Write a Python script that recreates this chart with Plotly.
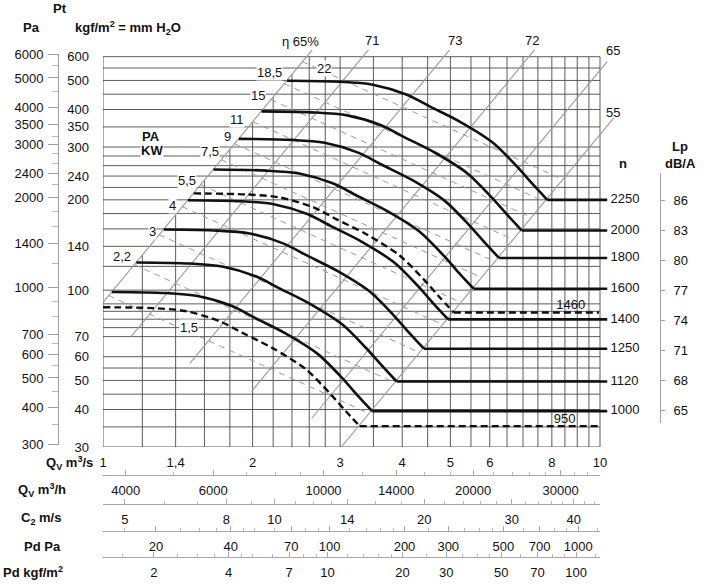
import math
import plotly.graph_objects as go

W, H = 708, 584

# ---------------- data ----------------
# fan curves: Qv [m3/s] and Pt [kgf/m2]
q_2250 = [2.345, 3.00, 3.49, 4.09, 4.55, 5.23, 6.09, 6.81, 7.33, 7.83]
pt_2250 = [499, 495, 484, 448, 409, 364, 310, 258, 225, 200]
q_2000 = [2.084, 2.667, 3.102, 3.636, 4.044, 4.649, 5.413, 6.053, 6.516, 6.960]
pt_2000 = [394.3, 391.1, 382.4, 354.0, 323.2, 287.6, 244.9, 203.8, 177.8, 158.0]
q_1800 = [1.876, 2.400, 2.792, 3.272, 3.640, 4.184, 4.872, 5.448, 5.864, 6.264]
pt_1800 = [319.4, 316.8, 309.8, 286.7, 261.8, 233.0, 198.4, 165.1, 144.0, 128.0]
q_1600 = [1.668, 2.133, 2.482, 2.908, 3.236, 3.719, 4.331, 4.843, 5.212, 5.568]
pt_1600 = [252.3, 250.3, 244.8, 226.6, 206.8, 184.1, 156.8, 130.5, 113.8, 101.1]
q_1460 = [1.522, 1.947, 2.265, 2.654, 2.952, 3.394, 3.952, 4.419, 4.756, 5.081]
pt_1460 = [210.1, 208.4, 203.8, 188.7, 172.2, 153.3, 130.5, 108.6, 94.7, 84.2]
q_1400 = [1.482, 1.896, 2.206, 2.585, 2.876, 3.305, 3.849, 4.304, 4.633, 4.949]
pt_1400 = [199.4, 197.8, 193.4, 179.0, 163.4, 145.4, 123.8, 103.1, 89.9, 79.9]
q_1250 = [1.325, 1.695, 1.972, 2.311, 2.571, 2.955, 3.441, 3.848, 4.141, 4.424]
pt_1250 = [159.2, 157.9, 154.4, 142.9, 130.5, 116.1, 98.9, 82.3, 71.8, 63.8]
q_1120 = [1.167, 1.493, 1.737, 2.036, 2.265, 2.603, 3.032, 3.390, 3.649, 3.898]
pt_1120 = [123.7, 122.7, 119.9, 111.0, 101.4, 90.2, 76.8, 63.9, 55.8, 49.6]
q_1000 = [1.042, 1.333, 1.551, 1.818, 2.022, 2.324, 2.707, 3.027, 3.258, 3.480]
pt_1000 = [98.6, 97.8, 95.6, 88.5, 80.8, 71.9, 61.2, 51.0, 44.4, 39.5]
q_950 = [1.00, 1.259, 1.464, 1.716, 1.909, 2.194, 2.555, 2.857, 3.075, 3.285]
pt_950 = [87.7, 87.1, 85.2, 78.8, 72.0, 64.1, 54.6, 45.4, 39.6, 35.2]

solid_rpm = ["2250", "2000", "1800", "1600", "1400", "1250", "1120", "1000"]
solid_q = [q_2250, q_2000, q_1800, q_1600, q_1400, q_1250, q_1120, q_1000]
solid_pt = [pt_2250, pt_2000, pt_1800, pt_1600, pt_1400, pt_1250, pt_1120, pt_1000]
dashed_rpm = ["1460", "950"]
dashed_q = [q_1460, q_950]
dashed_pt = [pt_1460, pt_950]
solid_tail_q = 10.34
dashed_tail_q = 9.95
rpm_label_q = 10.5
dashed_label_q = [8.73, 8.49]

# noise level per rpm
lp_vals = [86, 83, 80, 77, 74, 71, 68, 65]

# efficiency (system) lines, endpoints
eff_labels = ["η 65%", "71", "73", "72", "65", "55"]
eff_q0 = [1.0, 1.139, 1.495, 1.99, 2.63, 3.015]
eff_p0 = [91, 70, 57, 46, 37.4, 30]
eff_q1 = [2.634, 3.42, 4.98, 7.39, 10.33, 10.67]
eff_p1 = [631, 632, 632, 633, 577, 376]

# power (kW) lines, endpoints
kw_labels = ["22", "18,5", "15", "11", "9", "7,5", "5,5", "4", "3", "2,2", "1,5"]
kw_q0 = [2.519, 2.315, 2.177, 2.001, 1.839, 1.729, 1.571, 1.444, 1.297, 1.156, 1.027]
kw_p0 = [577.4, 487.7, 431.3, 364.3, 307.7, 272.1, 224.7, 189.7, 153.0, 121.6, 95.9]
kw_q1 = [8.41, 7.73, 7.27, 6.68, 6.14, 5.78, 5.25, 4.82, 4.33, 3.86, 3.43]
kw_p1 = [233.8, 197.5, 174.7, 147.5, 124.6, 110.2, 91.0, 76.8, 62.0, 49.2, 38.8]

# grid
vgrid_q = [1.0, 1.2, 1.4, 1.6, 1.8, 2.0, 2.2, 2.4, 2.6, 2.8, 3.0, 3.5, 4, 4.5, 5,
           5.5, 6, 6.5, 7, 7.5, 8, 8.5, 9, 9.5, 10]
vgrid_top = [600, 131, 178, 233, 295, 364, 440, 524] + [600] * 17
hgrid_pt = [30, 35, 40, 45, 50, 55, 60, 70, 75, 80, 85, 90, 100, 120, 140, 160, 180,
            200, 220, 240, 260, 280, 300, 350, 400, 450, 500, 550, 600]

# axis ticks
qs_ticks = [1, 1.4, 2, 3, 4, 5, 6, 8, 10]
qs_text = ["1", "1,4", "2", "3", "4", "5", "6", "8", "10"]
kgf_ticks = [30, 40, 50, 60, 70, 100, 140, 200, 240, 300, 350, 400, 500, 600]
pa_ticks = [300, 400, 500, 600, 700, 1000, 1400, 2000, 2400, 3000, 3500, 4000, 5000, 6000]
pa_minor = [350, 450, 550, 650, 800, 900, 1200, 1600, 1800, 2200, 2600, 2800, 3200, 4500, 5500]
qh_ticks = [4000, 6000, 10000, 14000, 20000, 30000]
qh_minor = [5000, 7000, 8000, 9000, 12000, 16000, 18000, 22000, 24000, 26000, 28000,
            32000, 34000]
c2_ticks = [5, 8, 10, 14, 20, 30, 40]
c2_minor = [6, 7, 9, 11, 12, 13, 16, 18, 22, 24, 26, 28, 32, 34, 36, 38, 42, 44]
pdpa_ticks = [20, 40, 70, 100, 200, 300, 500, 700, 1000]
pdpa_minor = [15, 25, 30, 35, 45, 50, 60, 80, 90, 120, 140, 160, 180, 250, 350, 400,
              450, 600, 800, 900, 1200]
pdk_ticks = [2, 4, 7, 10, 20, 30, 50, 70, 100]
pdk_minor = [1.5, 2.5, 3, 3.5, 4.5, 5, 6, 8, 9, 12, 14, 16, 18, 25, 35, 40, 45, 60,
             80, 90, 120]

# unit conversions for the secondary scales (per 1 m3/s)
QH_PER_QS = 3600.0
C2_PER_QS = 4.517
PDPA_PER_QS2 = 12.24
PDK_PER_QS2 = 1.248
PA_PER_KGF = 9.81

# ---------------- layout geometry ----------------
X0, X1 = 103.0, 617.4     # main plot, px
Y0, Y1 = 447.0, 36.6
DEC_X, DEC_Y = 497.0, 300.0
SCALE_RIGHT = 600.0


def fx(px):
    return px / W


def fy(py):
    return 1 - py / H


x_range = [0, (X1 - X0) / DEC_X]
y_range = [math.log10(30), math.log10(30) + (Y0 - Y1) / DEC_Y]

FONT = "Liberation Sans, Arial, sans-serif"
INK = "#111111"
GRID = "#4a4a4a"
GRAY = "#9a9a9a"


def segs(x0s, y0s, x1s, y1s, color, width, dash=None):
    xs, ys = [], []
    for a, b, c, d in zip(x0s, y0s, x1s, y1s):
        xs += [a, c, None]
        ys += [b, d, None]
    return go.Scatter(x=xs, y=ys, mode="lines",
                      line=dict(color=color, width=width, dash=dash),
                      hoverinfo="skip", showlegend=False)


fig = go.Figure()

# grid
fig.add_trace(segs(vgrid_q, [30] * len(vgrid_q), vgrid_q, vgrid_top, GRID, 0.9))
fig.add_trace(segs([1] * len(hgrid_pt), hgrid_pt, [10] * len(hgrid_pt), hgrid_pt, GRID, 0.9))

# efficiency lines
fig.add_trace(segs(eff_q0, eff_p0, eff_q1, eff_p1, GRAY, 1.1))
# power lines
fig.add_trace(segs(kw_q0, kw_p0, kw_q1, kw_p1, GRAY, 1.0, "6px,5px"))

# fan curves
for q, p in zip(solid_q, solid_pt):
    fig.add_trace(go.Scatter(x=q, y=p, mode="lines", line=dict(color=INK, width=2.6, shape="spline", smoothing=0.8),
                             hoverinfo="skip", showlegend=False))
    fig.add_trace(go.Scatter(x=[q[-1], solid_tail_q], y=[p[-1], p[-1]], mode="lines",
                             line=dict(color=INK, width=2.6), hoverinfo="skip", showlegend=False))
for q, p in zip(dashed_q, dashed_pt):
    fig.add_trace(go.Scatter(x=q, y=p, mode="lines",
                             line=dict(color=INK, width=2.4, dash="7px,4px", shape="spline", smoothing=0.8),
                             hoverinfo="skip", showlegend=False))
    fig.add_trace(go.Scatter(x=[q[-1], dashed_tail_q], y=[p[-1], p[-1]], mode="lines",
                             line=dict(color=INK, width=2.4, dash="7px,4px"), hoverinfo="skip", showlegend=False))

# rpm labels
fig.add_trace(go.Scatter(x=[rpm_label_q] * len(solid_rpm), y=[p[-1] for p in solid_pt],
                         mode="text", text=solid_rpm, textposition="middle right",
                         textfont=dict(size=13, color=INK, family=FONT), cliponaxis=False,
                         hoverinfo="skip", showlegend=False))
fig.add_trace(go.Scatter(x=dashed_label_q, y=[p[-1] for p in dashed_pt],
                         mode="text", text=dashed_rpm, textposition="top center",
                         textfont=dict(size=13, color=INK, family=FONT), cliponaxis=False,
                         hoverinfo="skip", showlegend=False))

# dummy traces so every extra axis is drawn
for xa, ya in [("x", "y2"), ("x", "y3"), ("x2", "y"), ("x3", "y"), ("x4", "y"), ("x5", "y")]:
    fig.add_trace(go.Scatter(x=[None], y=[None], xaxis=xa, yaxis=ya, mode="markers",
                             hoverinfo="skip", showlegend=False))

tickfont = dict(family=FONT, size=13, color=INK)


def bottom_axis(pos, factor, power, ticks, minor):
    lo = math.log10(factor * 1.0 ** power)
    hi = math.log10(factor * 10.0 ** power)
    return dict(type="log", domain=[fx(X0), fx(SCALE_RIGHT)], range=[lo, hi],
                anchor="free", position=fy(pos), side="bottom", automargin=False,
                showline=True, linecolor="#a8a8a8", linewidth=1,
                ticks="inside", ticklen=5, tickcolor="#a8a8a8", tickwidth=1,
                tickmode="array", tickvals=ticks, ticktext=[str(t) for t in ticks],
                minor=dict(tickmode="array", tickvals=minor, ticks="inside", ticklen=3,
                           tickcolor="#b8b8b8", showgrid=False),
                showgrid=False, zeroline=False, tickfont=tickfont, ticklabelstandoff=3)


pa_dom = [fy(Y0 - DEC_Y * math.log10(300 / PA_PER_KGF / 30)),
          fy(Y0 - DEC_Y * math.log10(6000 / PA_PER_KGF / 30))]

fig.update_layout(
    width=W, height=H, margin=dict(l=0, r=0, t=0, b=0, pad=0, autoexpand=False),
    paper_bgcolor="white", plot_bgcolor="rgba(0,0,0,0)", showlegend=False,
    font=dict(family=FONT, size=13, color=INK),
    xaxis=dict(type="log", domain=[fx(X0), fx(X1)], range=x_range, anchor="y",
               automargin=False,
               showgrid=False, zeroline=False, showline=False, ticks="",
               tickmode="array", tickvals=qs_ticks, ticktext=qs_text,
               tickfont=tickfont, ticklabelstandoff=6),
    yaxis=dict(type="log", domain=[fy(Y0), fy(Y1)], range=y_range, anchor="x",
               automargin=False,
               showgrid=False, zeroline=False, showline=False, ticks="",
               tickmode="array", tickvals=kgf_ticks, ticktext=[str(t) for t in kgf_ticks],
               tickfont=tickfont, ticklabelstandoff=13),
    yaxis2=dict(type="log", domain=pa_dom, range=[math.log10(300), math.log10(6000)],
                anchor="free", position=fx(58), side="left", automargin=False,
                showline=True, linecolor="#a0a0a0", linewidth=1,
                ticks="outside", ticklen=10, tickcolor="#a0a0a0",
                tickmode="array", tickvals=pa_ticks, ticktext=[str(t) for t in pa_ticks],
                minor=dict(tickmode="array", tickvals=pa_minor, ticks="outside", ticklen=6,
                           tickcolor="#b8b8b8", showgrid=False),
                showgrid=False, zeroline=False, tickfont=tickfont, ticklabelstandoff=2),
    yaxis3=dict(type="linear", domain=[fy(423), fy(173)], range=[63.7, 88.7],
                anchor="free", position=fx(660), side="right", automargin=False,
                showline=True, linecolor="#a0a0a0", linewidth=1,
                ticks="outside", ticklen=4, tickcolor="#a0a0a0",
                tickmode="array", tickvals=lp_vals, ticktext=[str(v) for v in lp_vals],
                showgrid=False, zeroline=False, tickfont=tickfont, ticklabelstandoff=6),
    xaxis2=bottom_axis(475, QH_PER_QS, 1, qh_ticks, qh_minor),
    xaxis3=bottom_axis(504, C2_PER_QS, 1, c2_ticks, c2_minor),
    xaxis4=bottom_axis(531, PDPA_PER_QS2, 2, pdpa_ticks, pdpa_minor),
    xaxis5=bottom_axis(557, PDK_PER_QS2, 2, pdk_ticks, pdk_minor),
)

ann = []


def label(text, px, py, xanchor="center", bold=False, bg=None, size=13):
    t = "<b>%s</b>" % text if bold else text
    d = dict(text=t, x=fx(px), y=fy(py), xref="paper", yref="paper",
             xanchor=xanchor, yanchor="middle", showarrow=False,
             font=dict(family=FONT, size=size, color=INK))
    if bg:
        d.update(bgcolor=bg, borderpad=0)
    ann.append(d)


# kW labels
kw_label_px = [(324, 69), (269, 72), (258, 95), (237, 120), (228, 136), (210, 152),
               (187, 180), (172, 205), (152, 231), (122, 257), (189, 327)]
for t, (px, py) in zip(kw_labels, kw_label_px):
    label(t, px, py, bg="white")

# efficiency labels
eff_label_px = [(300, 41), (372, 40), (455, 40), (532, 40), (613, 50), (613, 112)]
for t, (px, py) in zip(eff_labels, eff_label_px):
    label(t, px, py)

label("PA", 151, 136, bold=True)
label("KW", 152, 150, bold=True, bg="white")
label("Pt", 60, 8, bold=True)
label("Pa", 31, 27, bold=True)
label("kgf/m<sup>2</sup> = mm H<sub>2</sub>O", 73, 28, xanchor="left", bold=True)
label("n", 623, 163, bold=True)
label("Lp", 680, 147, bold=True)
label("dB/A", 680, 163, bold=True)

label("Q<sub>V</sub> m<sup>3</sup>/s", 95, 463, xanchor="right", bold=True)
label("Q<sub>V</sub> m<sup>3</sup>/h", 68, 490, xanchor="right", bold=True)
label("C<sub>2</sub> m/s", 63, 518, xanchor="right", bold=True)
label("Pd Pa", 63, 546, xanchor="right", bold=True)
label("Pd kgf/m<sup>2</sup>", 65, 572, xanchor="right", bold=True)

fig.update_layout(annotations=ann)
fig.write_html("out.html")
